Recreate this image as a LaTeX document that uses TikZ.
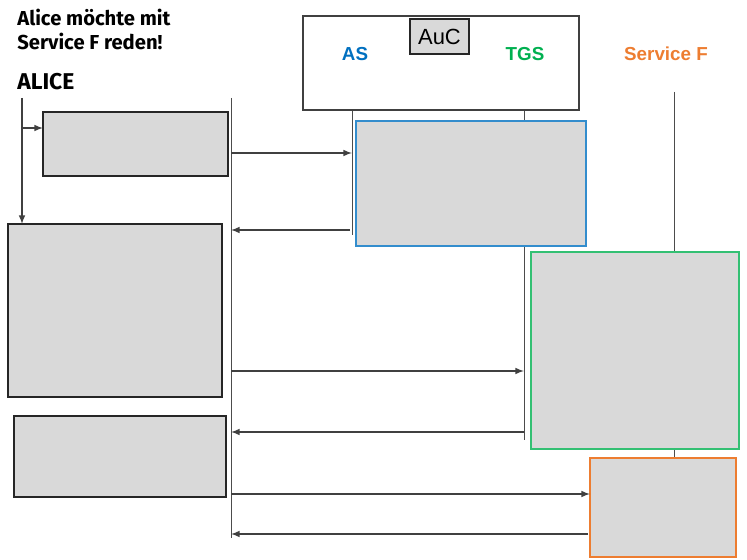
\documentclass[tikz,border=0pt]{standalone}
\usepackage{fontspec}
\setmainfont{Fira Sans}
\newfontfamily\arialfont{Liberation Sans}
\usetikzlibrary{arrows,positioning}

\definecolor{asblau}{RGB}{0,112,192}
\definecolor{tgsgruen}{RGB}{0,176,80}
\definecolor{servorange}{RGB}{237,125,49}
\definecolor{kastengrau}{RGB}{217,217,217}

\begin{document}
\begin{tikzpicture}[x=0.02cm, y=-0.02cm, >=latex]
  % definicion de estilos
  %Define style for boxes
   \tikzset{
   kasten/.style={
           rectangle,
           draw=black!85,
           fill=kastengrau,
           line width=0.9pt,
           inner sep=0pt,
           outer sep=0pt,
           anchor=north west},
    % Define arrow style
    pfeil/.style={
           ->,
           draw=black!75,
           line width=0.7pt},
    lebenslinie/.style={
           draw=black!70,
           line width=0.5pt}
    }
  \tikzstyle{rolle} = [font=\arialfont\bfseries\fontsize{10.7}{12}\selectfont, anchor=base, inner sep=0pt]

  \useasboundingbox (0,0) rectangle (747,560);

  % Lebenslinien
  \coordinate (aliceTop) at (22,98);
  \coordinate (aliceAb) at (22,128);
  \coordinate (hauptTop) at (231,98);
  \coordinate (hauptEnde) at (231,538);
  \coordinate (asTop) at (352,110);
  \coordinate (asEnde) at (352,235);
  \coordinate (tgsTop) at (524,110);
  \coordinate (tgsEnde) at (524,440);
  \coordinate (servTop) at (674,92);
  \coordinate (servEnde) at (674,458);

  \draw[lebenslinie] (hauptTop) -- (hauptEnde);
  \draw[lebenslinie] (asTop) -- (asEnde);
  \draw[lebenslinie] (tgsTop) -- (tgsEnde);
  \draw[lebenslinie] (servTop) -- (servEnde);

  % Gráfico
  \node[font=\bfseries\fontsize{11.5}{13.6}\selectfont, align=left, anchor=north west, inner sep=0pt] (titel) at (17,9) {Alice möchte mit\\Service F reden!};
  \node[font=\bfseries\fontsize{13}{15}\selectfont, anchor=base west, inner sep=0pt] (alice) at (17,90) {ALICE};

  \node[kasten, fill=white, draw=black!75, minimum width=5.52cm, minimum height=1.88cm] (kopf) at (303,16) {};
  \node[kasten, minimum width=1.18cm, minimum height=0.70cm, font=\arialfont\fontsize{12.5}{14}\selectfont] (auc) at (410,19) {AuC};
  \node[rolle, text=asblau] (as) at (355,61) {AS};
  \node[rolle, text=tgsgruen] (tgs) at (525,61) {TGS};
  \node[rolle, text=servorange] (serv) at (666,61) {Service F};

  \node[kasten, minimum width=3.70cm, minimum height=1.28cm] (k1) at (43,112) {};
  \node[kasten, draw=asblau!80!white, minimum width=4.60cm, minimum height=2.50cm] (kas) at (356,121) {};
  \node[kasten, minimum width=4.28cm, minimum height=3.46cm] (k2) at (8,224) {};
  \node[kasten, draw=tgsgruen!80!white, minimum width=4.16cm, minimum height=3.94cm] (ktgs) at (531,252) {};
  \node[kasten, minimum width=4.24cm, minimum height=1.62cm] (k3) at (14,416) {};
  \node[kasten, draw=servorange, minimum width=2.92cm, minimum height=1.98cm] (kserv) at (590,458) {};

  % Pfeile
  \coordinate (p1a) at (231,153);
  \coordinate (p1b) at (352,153);
  \coordinate (p2a) at (350,230);
  \coordinate (p2b) at (231,230);
  \coordinate (p3a) at (231,371);
  \coordinate (p3b) at (524,371);
  \coordinate (p4a) at (524,432);
  \coordinate (p4b) at (231,432);
  \coordinate (p5a) at (231,494);
  \coordinate (p5b) at (590,494);
  \coordinate (p6a) at (588,534);
  \coordinate (p6b) at (231,534);

  \draw[pfeil] (aliceTop) -- (aliceTop |- k2.north);
  \draw[pfeil] (aliceAb) -- (aliceAb -| k1.west);
  \draw[pfeil] (p1a) -- (p1b);
  \draw[pfeil] (p2a) -- (p2b);
  \draw[pfeil] (p3a) -- (p3b);
  \draw[pfeil] (p4a) -- (p4b);
  \draw[pfeil] (p5a) -- (p5b);
  \draw[pfeil] (p6a) -- (p6b);
 \end{tikzpicture}
\end{document}
